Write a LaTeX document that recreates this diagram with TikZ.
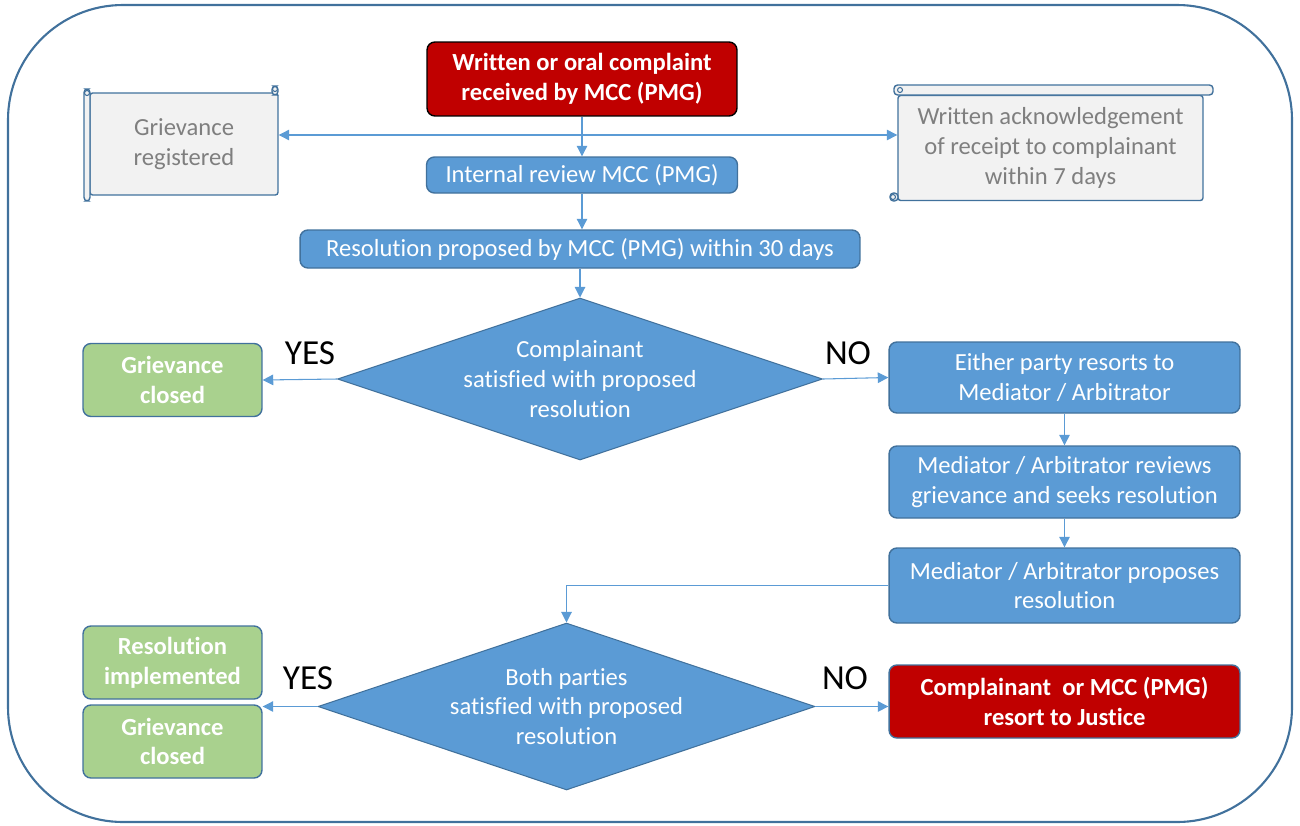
\documentclass[tikz,border=0pt]{standalone}
\usepackage{fontspec}
\setmainfont{Carlito}[Ligatures=NoCommon]
\usetikzlibrary{shapes.geometric,arrows.meta}

\definecolor{boxblue}{HTML}{5B9BD5}
\definecolor{edgeblue}{HTML}{41719C}
\definecolor{darkred}{HTML}{C00000}
\definecolor{leafgreen}{HTML}{A9D18E}
\definecolor{scrollgray}{HTML}{F2F2F2}
\definecolor{textgray}{HTML}{7F7F7F}

\tikzset{
  procbox/.style={draw=edgeblue, fill=boxblue, text=white, rounded corners=4.5pt,
    line width=0.8pt, align=center, inner sep=0pt, font=\fontsize{14}{17}\selectfont},
  redbox/.style={procbox, fill=darkred, font=\fontsize{14}{17}\selectfont\bfseries},
  greenbox/.style={procbox, fill=leafgreen, font=\fontsize{14}{17}\selectfont\bfseries},
  decision/.style={diamond, aspect=3, draw=edgeblue, fill=boxblue, text=white,
    line width=0.6pt, inner sep=0pt, align=center, font=\fontsize{14}{17}\selectfont},
  scrollbox/.style={draw=edgeblue, fill=scrollgray, text=textgray, line width=0.8pt,
    rounded corners=1.5pt, inner sep=0pt, align=center, font=\fontsize{14}{17}\selectfont},
  scrollpart/.style={draw=edgeblue, fill=scrollgray, line width=0.8pt, rounded corners=2pt},
  flowarrow/.style={draw=boxblue, line width=0.6pt, -{Triangle[length=6pt,width=6pt]}},
  answer/.style={font=\fontsize{20}{24}\selectfont}
}

\begin{document}
\begin{tikzpicture}[x=0.02cm, y=-0.02cm]
  \useasboundingbox (0,0) rectangle (1300,825);
  % outer frame
  \draw[edgeblue, line width=1.2pt, rounded corners=2.3cm] (8,5) rectangle (1292,822);

  % main column
  \node[redbox, draw=black, minimum width=6.2cm, minimum height=1.48cm] (complaint) at (582,79)
    {Written or oral complaint\\received by MCC (PMG)};
  \node[procbox, minimum width=6.22cm, minimum height=0.72cm] (review) at (582,175)
    {Internal review MCC (PMG)};
  \node[procbox, minimum width=11.2cm, minimum height=0.76cm] (proposal) at (580,249)
    {Resolution proposed by MCC (PMG) within 30 days};
  \node[decision, minimum width=9.7cm, minimum height=3.24cm] (satisfied) at (580,379)
    {Complainant\\satisfied with proposed\\resolution};

  % scrolls
  \node[scrollbox, minimum width=3.76cm, minimum height=2.04cm] (registered) at (184,144)
    {Grievance\\registered};
  \filldraw[scrollpart] (84,89) rectangle (90,201);
  \draw[edgeblue, line width=0.6pt] (87,93) circle (2.5);
  \filldraw[scrollpart] (272,86) rectangle (278,95);
  \draw[edgeblue, line width=0.6pt] (275,89) circle (2.5);

  \node[scrollbox, minimum width=6.1cm, minimum height=2.1cm] (acknowledge) at (1050.5,148)
    {Written acknowledgement\\of receipt to complainant\\within 7 days};
  \filldraw[scrollpart] (894,85) rectangle (1213,95);
  \draw[edgeblue, line width=0.6pt] (900,90) circle (2.5);
  \filldraw[scrollpart] (890,193) rectangle (898,201);
  \draw[edgeblue, line width=0.6pt] (893,197) circle (2.5);

  % first outcome
  \node[greenbox, minimum width=3.58cm, minimum height=1.46cm] (closedA) at (172.5,380)
    {Grievance\\closed};
  \node[procbox, minimum width=7.02cm, minimum height=1.42cm] (mediator) at (1064.5,377.5)
    {Either party resorts to\\Mediator / Arbitrator};
  \node[procbox, minimum width=7.02cm, minimum height=1.44cm] (medreview) at (1064.5,482)
    {Mediator / Arbitrator reviews\\grievance and seeks resolution};
  \node[procbox, minimum width=7.02cm, minimum height=1.5cm] (medpropose) at (1064.5,585.5)
    {Mediator / Arbitrator proposes\\resolution};

  % second decision
  \node[decision, minimum width=9.94cm, minimum height=3.34cm] (bothsat) at (566.5,706.5)
    {Both parties\\satisfied with proposed\\resolution};
  \node[greenbox, minimum width=3.58cm, minimum height=1.46cm] (implemented) at (172.5,662.5)
    {Resolution\\implemented};
  \node[greenbox, minimum width=3.58cm, minimum height=1.46cm] (closedB) at (172.5,741.5)
    {Grievance\\closed};
  \node[redbox, minimum width=7.02cm, minimum height=1.46cm] (justice) at (1064.5,701.5)
    {Complainant\ \ or MCC (PMG)\\resort to Justice};

  % answers
  \node[answer] (yesA) at (310,353) {YES};
  \node[answer] (noA) at (848,353) {NO};
  \node[answer] (yesB) at (308,678) {YES};
  \node[answer] (noB) at (845,678) {NO};

  % connectors
  \coordinate (hub) at (582,135);
  \draw[flowarrow] (complaint.south) -- (review.north);
  \draw[flowarrow] (hub) -- (hub -| registered.east);
  \draw[flowarrow] (hub) -- (hub -| acknowledge.west);
  \draw[flowarrow] (review.south) -- (review.south |- proposal.north);
  \draw[flowarrow] (proposal.south) -- (satisfied.north);
  \draw[flowarrow] (satisfied.west) -- (closedA.east);
  \draw[flowarrow] (satisfied.east) -- (mediator.west);
  \draw[flowarrow] (mediator.south) -- (medreview.north);
  \draw[flowarrow] (medreview.south) -- (medpropose.north);
  \draw[flowarrow] (medpropose.west) -| (bothsat.north);
  \draw[flowarrow] (bothsat.west) -- (bothsat.west -| implemented.east);
  \draw[flowarrow] (bothsat.east) -- (bothsat.east -| justice.west);
\end{tikzpicture}
\end{document}
